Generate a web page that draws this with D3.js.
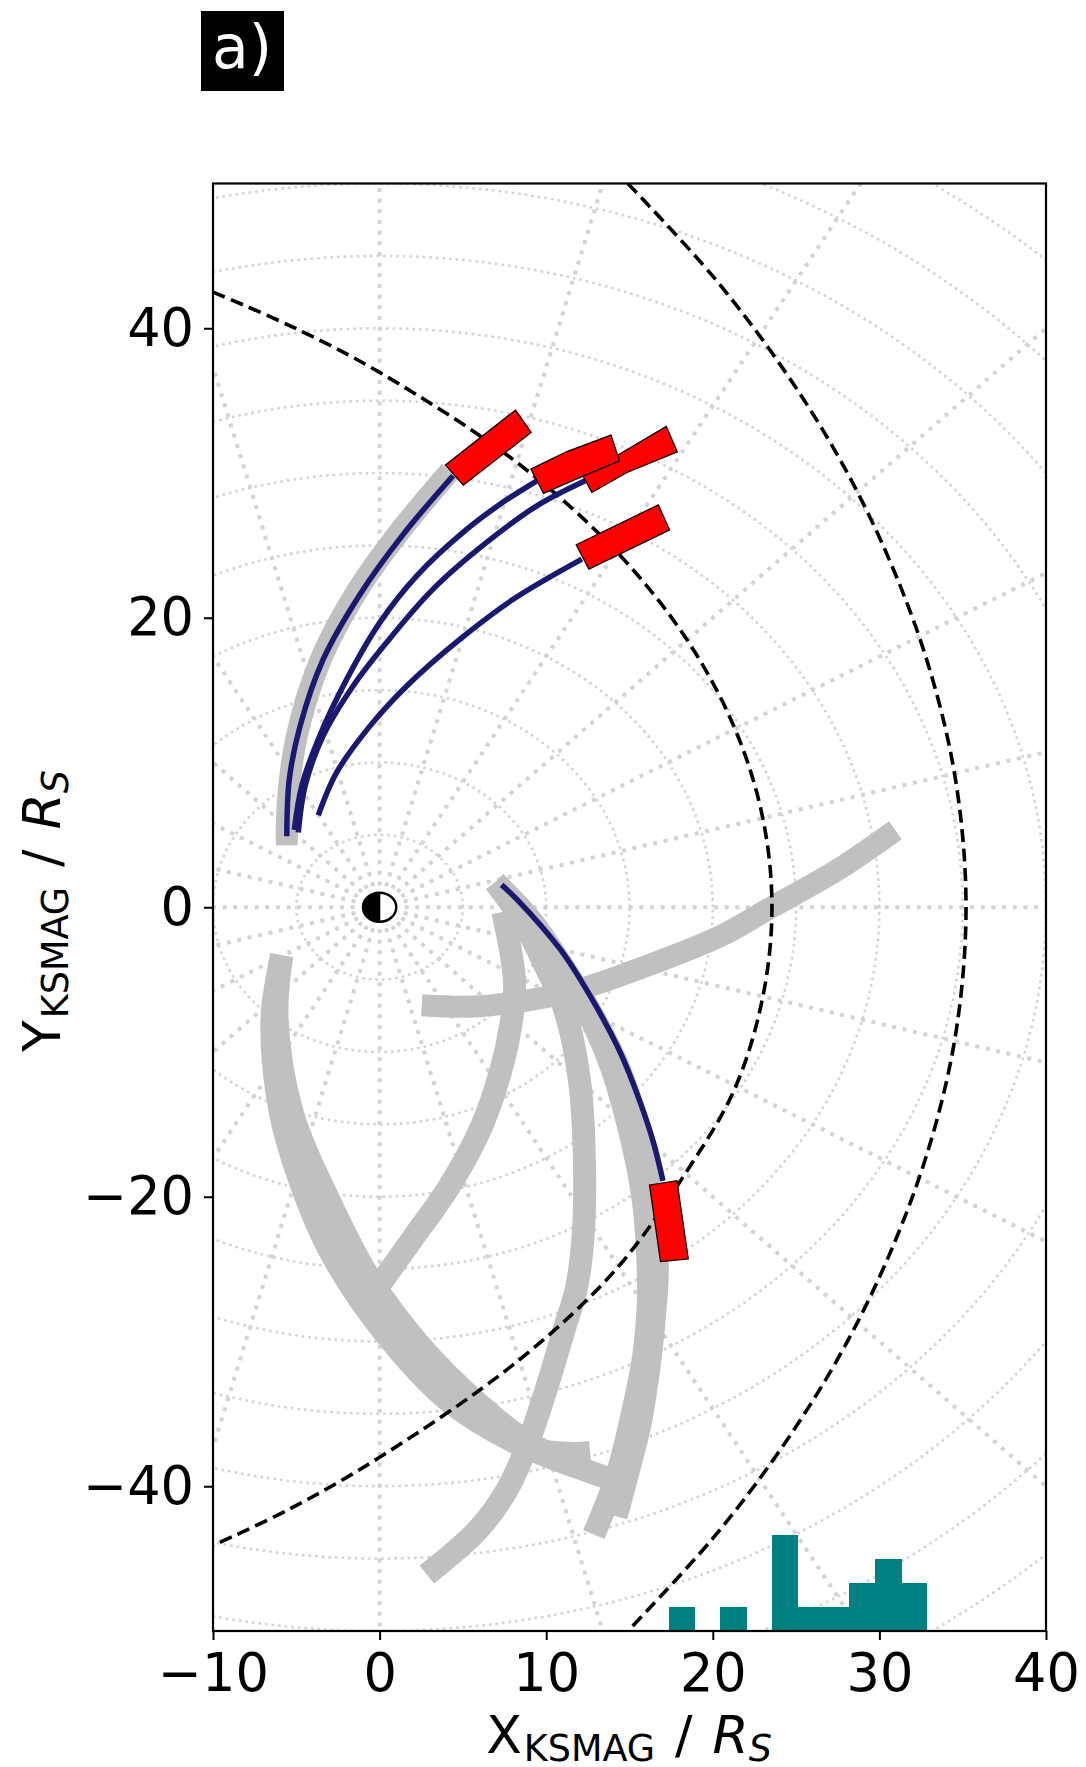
<!DOCTYPE html>
<html><head><meta charset="utf-8">
<script src="https://cdn.jsdelivr.net/npm/d3@7"></script>
<style>html,body{margin:0;padding:0;background:#fff}svg{display:block}text{font-family:"DejaVu Sans",sans-serif}</style>
</head><body><div id="chart"></div>
<script>
const xTicks=[-10,0,10,20,30,40];
const yTicks=[-40,-20,0,20,40];
const ringRadii=[5,10,15,20,25,30,35,40,45,50,55,60,65];
const spokeAngles=[0,15,30,45,60,75,90,105,120,135,150,165,180,195,210,225,240,255,270,285,300,315,330,345];
const innerBoundary=[[-10,42.5],[-5.28,40.12],[0,36.95],[8.24,30.73],[14.2,24.59],[18.46,18.46],[21.33,12.32],[23,6.16],[23.55,0],[23,-6.2],[21.33,-12.5],[18.46,-18.2],[14.2,-25],[8.24,-31.4],[0,-38],[-5.28,-41.5],[-10,-44.1]];
const outerBoundary=[[14.9,50],[20,43.6],[24.1,37.4],[27.6,31],[30.6,24],[33,16.5],[34.6,8.6],[35.2,0],[34.6,-8.6],[33,-16.5],[30.6,-24],[27.6,-31],[24.1,-37.4],[20,-43.6],[14.9,-50]];
const grayTrackUpper=[[-5.57,4.28],[-5.52,7.05],[-5.01,11.61],[-3.6,16.93],[-1.35,21.84],[1.23,25.99],[4.23,30.13]];
const grayTrackA=[[-5.87,-3.32],[-6.16,-7.6],[-5.2,-14.37],[-2.91,-20.53],[-0.69,-25.43],[2.49,-30.34],[5.98,-34.35],[8.56,-36.7],[9.82,-37.53],[11.62,-37.73],[12.64,-37.66]];
const grayTrackB=[[-5.87,-3.32],[-6.46,-7.74],[-5.98,-14.03],[-4.83,-18.73],[-2.91,-23.91],[0.27,-29.37],[4.17,-34.14],[8.26,-37.04],[13.54,-39.39],[14.44,-39.81]];
const grayTrackC=[[7.4,-0.32],[8.1,-5.2],[7.88,-8.09],[7.24,-11.43],[6.04,-15.35],[4.07,-19.49],[2.13,-22.65],[0.23,-25.7],[-0.39,-26.6]];
const grayTrackD=[[6.94,1.73],[8.64,-1.06],[9.94,-4.06],[11.04,-6.82],[11.99,-11.89],[12.3,-17.88],[12.2,-22.96],[11.8,-26.4],[11.14,-28.94],[10,-33.3],[8.84,-37.23],[7.66,-40.22],[5.92,-42.99],[2.83,-46.1]];
const grayTrackE=[[6.94,1.73],[9.04,-0.83],[10.84,-3.8],[12.82,-7.53],[14.44,-11.33],[15.59,-15.55],[16.31,-20.18],[16.67,-24.81],[16.55,-27.57],[16.25,-31.03],[15.65,-35.59],[14.92,-38.98],[14.2,-42.07]];
const grayTrackF=[[6.94,1.73],[8.93,-1.17],[10.84,-4.13],[12.64,-7.6],[13.96,-11.2],[15.1,-15.9],[15.82,-20.18],[16.12,-24.81],[16.12,-27.57],[15.82,-31.24],[15.16,-35.03],[14.26,-39.17],[12.86,-43.33]];
const grayTrackG=[[2.53,-6.77],[5.63,-6.86],[8.64,-6.48],[11.62,-5.8],[15.65,-4.22],[20.45,-2],[23.63,0.07],[27.46,2.56],[30.96,5.32]];
const navy1=[[-5.57,4.91],[-5.42,8.85],[-4.77,12.53],[-3.38,17.14],[-1.17,21.63],[1.43,25.78],[4.41,29.81]];
const navy2=[[-5.12,5.34],[-4.67,8.38],[-3.68,11.61],[-1.97,15.76],[0.03,19.7],[2.23,22.9],[5.24,26.12],[7.42,27.99],[9.44,29.46]];
const navy3=[[-4.88,5.16],[-4.47,8.38],[-3.39,11.84],[-1.59,15.29],[0.43,18.31],[3.21,21.98],[6.44,25.22],[9.44,27.73],[12.34,29.46]];
const navy4=[[-3.68,6.36],[-2.57,9.33],[-0.57,12.53],[1.63,15.29],[4.83,18.52],[8.04,21.29],[12.14,24.05]];
const navy5=[[7.32,1.55],[8.24,0.55],[10.84,-2.9],[12.64,-6.13],[14.45,-10.04],[15.65,-13.5],[16.44,-16.26],[17.01,-18.91]];
const redBox1=[[3.95,30.55],[8.16,34.35],[9.1,32.81],[5.03,29.16]];
const redBox2=[[12.2,29.81],[17.21,33.22],[17.87,31.46],[14.85,30.04],[12.74,28.66]];
const redBox3=[[9.08,30.27],[11.24,31.48],[13.89,32.62],[14.4,30.84],[12.04,29.7],[9.84,28.59]];
const redBox4=[[11.8,25.04],[16.73,27.8],[17.41,26.07],[12.56,23.36]];
const redBox5=[[16.2,-19.19],[17.85,-18.89],[18.53,-24.3],[16.86,-24.48]];
const histEdges=[17.35,18.9,20.45,22,23.55,25.1,26.65,28.2,29.75,31.3,32.85];
const histCounts=[1,0,1,0,4,1,1,2,3,2];

const W=1086,H=1767;
const plot={l:213,r:1046,t:183.5,b:1631};
const x=d3.scaleLinear().domain([-10,40]).range([plot.l,plot.r]);
const y=d3.scaleLinear().domain([-50,50]).range([plot.b,plot.t]);
const countY=d3.scaleLinear().domain([0,4]).range([plot.b,plot.b-96]);
const svg=d3.select('#chart').append('svg').attr('width',W).attr('height',H).attr('viewBox',`0 0 ${W} ${H}`);
svg.append('defs').append('clipPath').attr('id','clip').append('rect')
  .attr('x',plot.l).attr('y',plot.t).attr('width',plot.r-plot.l).attr('height',plot.b-plot.t);
const line=d3.line().x(d=>x(d[0])).y(d=>y(d[1]));
const smooth=d3.line().x(d=>x(d[0])).y(d=>y(d[1])).curve(d3.curveCatmullRom.alpha(0.5));
const g=svg.append('g').attr('clip-path','url(#clip)');
const rad=a=>a*Math.PI/180;

// polar graticule
const ringAngles=d3.range(0,361,2);
g.append('g').selectAll('path').data(ringRadii).join('path')
  .attr('d',r=>line(ringAngles.map(a=>[r*Math.cos(rad(a)),r*Math.sin(rad(a))])))
  .attr('fill','none').attr('stroke','#d3d3d3').attr('stroke-width',2.6).attr('stroke-dasharray','2.6 4');
g.append('g').selectAll('path').data(spokeAngles).join('path')
  .attr('d',a=>line([[1.5*Math.cos(rad(a)),1.5*Math.sin(rad(a))],[80*Math.cos(rad(a)),80*Math.sin(rad(a))]]))
  .attr('fill','none').attr('stroke','#d3d3d3').attr('stroke-width',4).attr('stroke-dasharray','4 6.67');

// spacecraft tracks
const grayTracks=[grayTrackUpper,grayTrackA,grayTrackB,grayTrackC,grayTrackD,grayTrackE,grayTrackF,grayTrackG];
const grayWidths=[22,23,23,23,23,23,23,22];
g.append('g').selectAll('path').data(grayTracks).join('path')
  .attr('d',smooth).attr('fill','none').attr('stroke','#c0c0c0').attr('stroke-width',(d,i)=>grayWidths[i]);

// boundaries
g.append('g').selectAll('path').data([innerBoundary,outerBoundary]).join('path')
  .attr('d',smooth).attr('fill','none').attr('stroke','#000').attr('stroke-width',3.6).attr('stroke-dasharray','13 6.5');

// navy tracks
g.append('g').selectAll('path').data([navy1,navy2,navy3,navy4,navy5]).join('path')
  .attr('d',smooth).attr('fill','none').attr('stroke','#191970').attr('stroke-width',5.5);

// red boxes
g.append('g').selectAll('path').data([redBox1,redBox2,redBox3,redBox4,redBox5]).join('path')
  .attr('d',d=>line(d)+'Z').attr('fill','#ff0000').attr('stroke','#000').attr('stroke-width',1.2).attr('stroke-linejoin','miter');

// histogram
g.append('g').attr('shape-rendering','crispEdges').selectAll('rect').data(histCounts).join('rect')
  .attr('x',(d,i)=>x(histEdges[i])).attr('width',(d,i)=>x(histEdges[i+1])-x(histEdges[i])+0.5)
  .attr('y',d=>countY(d)-(d?0:1)).attr('height',d=>(plot.b-countY(d))+(d?0:1)).attr('fill','#008080');

// planet
const px=x(0),py=y(0),rx=x(1)-x(0),ry=y(0)-y(1);
svg.append('ellipse').attr('cx',px).attr('cy',py).attr('rx',rx).attr('ry',ry).attr('fill','#fff').attr('stroke','#000').attr('stroke-width',2.4);
svg.append('path').attr('d',`M${px},${py-ry}A${rx},${ry} 0 0 0 ${px},${py+ry}Z`).attr('fill','#000').attr('stroke','#000').attr('stroke-width',1.4);

// frame and axes
svg.append('rect').attr('x',plot.l).attr('y',plot.t).attr('width',plot.r-plot.l).attr('height',plot.b-plot.t)
  .attr('fill','none').attr('stroke','#000').attr('stroke-width',2.2);
const fmt=d=>String(d).replace('-','\u2212');
const ax=svg.append('g').attr('transform',`translate(0,${plot.b})`)
  .call(d3.axisBottom(x).tickValues(xTicks).tickFormat(fmt).tickSize(9).tickPadding(14));
const ay=svg.append('g').attr('transform',`translate(${plot.l},0)`)
  .call(d3.axisLeft(y).tickValues(yTicks).tickFormat(fmt).tickSize(9).tickPadding(10));
[ax,ay].forEach(a=>{a.select('.domain').remove();
  a.selectAll('line').attr('stroke','#000').attr('stroke-width',2);
  a.selectAll('text').attr('fill','#000').style('font-size','52.5px').style('font-family','"DejaVu Sans",sans-serif');});

// labels
function axisLabel(t,main){
  t.attr('text-anchor','middle').attr('fill','#000').style('font-size','52px');
  t.append('tspan').text(main);
  t.append('tspan').text('KSMAG').attr('dy',8).attr('dx',2).style('font-size','36.5px');
  t.append('tspan').text('/').attr('dy',-8).attr('dx',20);
  t.append('tspan').text('R').attr('dx',20).style('font-style','italic');
  t.append('tspan').text('S').attr('dy',8).style('font-size','36.5px').style('font-style','italic');
}
axisLabel(svg.append('text').attr('x',629).attr('y',1753),'X');
axisLabel(svg.append('text').attr('transform','translate(60,911) rotate(-90)'),'Y');

// panel tag
svg.append('rect').attr('x',201).attr('y',11).attr('width',83).attr('height',80).attr('fill','#000');
svg.append('text').attr('x',212).attr('y',68).attr('fill','#fff').style('font-size','60px').text('a)');
</script></body></html>
